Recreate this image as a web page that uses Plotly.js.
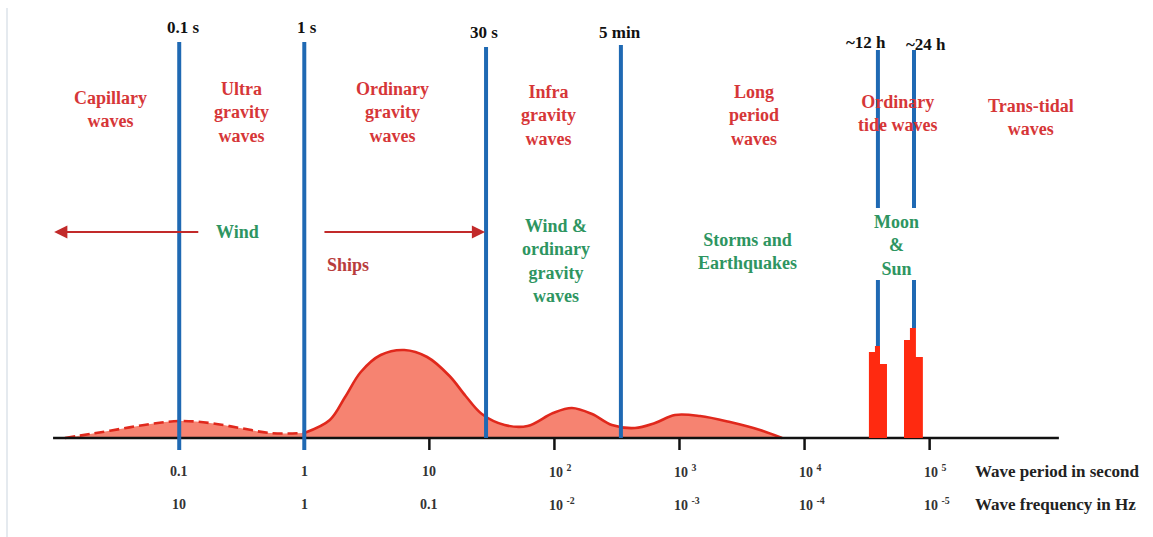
<!DOCTYPE html>
<html><head><meta charset="utf-8">
<script src="https://cdn.plot.ly/plotly-3.0.1.min.js"></script>
<style>html,body{margin:0;padding:0;background:#fff}</style>
</head><body><div id="chart" style="width:1153px;height:537px"></div>
<script>
// ---- data (period in seconds, relative energy) ----
const dashedPeriod = [0.0122, 0.0194, 0.0337, 0.0585, 0.101, 0.176, 0.306, 0.532, 1];
const dashedAmp    = [0, 4, 9, 14, 17, 15, 10, 5, 5];
const solidPeriod  = [1, 1.6, 2.12, 2.83, 4.08, 6.3, 9.6, 14.5, 19.5, 26.3, 40, 61, 97.5, 138, 200, 288, 441, 637, 920, 1459, 2535, 4406, 6607];
const solidAmp     = [5, 18, 41, 66, 83, 88, 81, 62, 42, 24, 13, 12, 25, 30, 24, 13, 10, 15, 23, 22, 16, 8, 0];
const tide12Edges  = [32700, 36550, 40100, 45600];
const tide12Amp    = [86, 92, 74];
const tide24Edges  = [62400, 69600, 77700, 88300];
const tide24Amp    = [98, 110, 81];

const markerPeriods = [0.1, 1, 28.4, 340, 38600, 75000];
const markerLabels  = ['0.1 s', '1 s', '30 s', '5 min', '~12 h', '~24 h'];

const tickPeriods    = [0.1, 1, 10, 100, 1000, 1e4, 1e5];
const periodTickText = ['0.1', '1', '10', '10', '10', '10', '10'];
const periodTickExp  = ['', '', '', '2', '3', '4', '5'];
const freqTickText   = ['10', '1', '0.1', '10', '10', '10', '10'];
const freqTickExp    = ['', '', '', '-2', '-3', '-4', '-5'];

const regionNames   = ['Capillary<br>waves', 'Ultra<br>gravity<br>waves', 'Ordinary<br>gravity<br>waves', 'Infra<br>gravity<br>waves', 'Long<br>period<br>waves', 'Ordinary<br>tide waves', 'Trans-tidal<br>waves'];
const forcingNames  = ['Wind', 'Wind &<br>ordinary<br>gravity<br>waves', 'Storms and<br>Earthquakes', 'Moon<br>&<br>Sun'];

// ---- styling / layout positions ----
const W = 1153, H = 537;
const FONT = "'Liberation Serif', 'Times New Roman', 'DejaVu Serif', serif";
const RED_TXT = '#D63638', GREEN_TXT = '#2E9561', BLUE = '#1F69B3';
const px2x = px => px / W;              // paper x
const py2y = py => 1 - py / H;          // paper y

const regionPos  = [[110, 109.5], [241, 112.5], [392, 113], [548, 115.5], [754, 115.5], [898, 113.5], [1031, 117.5]];
const forcingPos = [[237, 232], [556, 261], [747, 251], [896, 245]];
const markerLabelPos = [[183, 28], [307, 27], [484, 32.5], [620, 32.5], [866, 43], [926, 44]];
const periodRowY = 471, freqRowY = 504, rowLabelX = 973;
// blue line segments [bottom, top] in amplitude units
const markerSegs = [[[-12, 396]], [[-12, 396]], [[0, 391]], [[0, 393]], [[92, 158], [230, 388]], [[110, 158], [230, 388]]];

function stepTrace(edges, amp) {
  const x = [edges[0]], y = [0];
  for (let i = 0; i < amp.length; i++) { x.push(edges[i]); y.push(amp[i]); }
  x.push(edges[edges.length - 1]); y.push(0);
  return {x, y, type: 'scatter', mode: 'lines', line: {shape: 'hv', width: 0, color: '#FF2A10'},
          fill: 'toself', fillcolor: '#FF2A10', hoverinfo: 'skip'};
}

const traces = [];
traces.push({x: dashedPeriod, y: dashedAmp, type: 'scatter', mode: 'lines',
  line: {shape: 'spline', smoothing: 1, color: '#E0281C', width: 2.6, dash: '10px,5px'},
  fill: 'tozeroy', fillcolor: '#F68371'});
traces.push({x: solidPeriod, y: solidAmp, type: 'scatter', mode: 'lines',
  line: {shape: 'spline', smoothing: 1, color: '#E0281C', width: 2.6},
  fill: 'tozeroy', fillcolor: '#F68371'});
// x axis line
traces.push({x: [0.0098, 1.08e6], y: [0, 0], type: 'scatter', mode: 'lines', line: {color: '#111', width: 2.5}});
// tick marks
const tx = [], ty = [];
tickPeriods.forEach(p => { tx.push(p, p, null); ty.push(0, -12, null); });
traces.push({x: tx, y: ty, type: 'scatter', mode: 'lines', line: {color: '#111', width: 2.5}});
// blue period lines
const bx = [], by = [];
markerPeriods.forEach((p, i) => markerSegs[i].forEach(s => { bx.push(p, p, null); by.push(s[0], s[1], null); }));
traces.push({x: bx, y: by, type: 'scatter', mode: 'lines', line: {color: BLUE, width: 4}});
// tidal bars
traces.push(stepTrace(tide12Edges, tide12Amp));
traces.push(stepTrace(tide24Edges, tide24Amp));

const ann = [];
const bold = {family: FONT, weight: 'bold'};
regionNames.forEach((t, i) => ann.push({text: t, xref: 'paper', yref: 'paper',
  x: px2x(regionPos[i][0]), y: py2y(regionPos[i][1]), xanchor: 'center', yanchor: 'middle', showarrow: false,
  font: Object.assign({size: 18, color: RED_TXT}, bold)}));
forcingNames.forEach((t, i) => ann.push({text: t, xref: 'paper', yref: 'paper',
  x: px2x(forcingPos[i][0]), y: py2y(forcingPos[i][1]), xanchor: 'center', yanchor: 'middle', showarrow: false,
  font: Object.assign({size: 18, color: GREEN_TXT}, bold)}));
ann.push({text: 'Ships', xref: 'paper', yref: 'paper', x: px2x(348), y: py2y(265), xanchor: 'center', yanchor: 'middle',
  showarrow: false, font: Object.assign({size: 18, color: '#B83C3C'}, bold)});
markerLabels.forEach((t, i) => ann.push({text: t, xref: 'paper', yref: 'paper',
  x: px2x(markerLabelPos[i][0]), y: py2y(markerLabelPos[i][1]), xanchor: 'center', yanchor: 'middle', showarrow: false,
  font: Object.assign({size: 17, color: '#111'}, bold)}));
// tick labels
function tickAnn(p, base, exp, py) {
  const hasExp = exp !== '';
  return {text: base + (hasExp ? ' <sup>' + exp + '</sup>' : ''), xref: 'x', yref: 'paper',
    x: Math.log10(p), y: py2y(py), xanchor: hasExp ? 'left' : 'center', xshift: hasExp ? -7.5 : 0, yanchor: 'middle',
    showarrow: false, font: Object.assign({size: 14, color: '#333'}, bold)};
}
tickPeriods.forEach((p, i) => {
  ann.push(tickAnn(p, periodTickText[i], periodTickExp[i], periodRowY));
  ann.push(tickAnn(p, freqTickText[i], freqTickExp[i], freqRowY));
});
ann.push({text: 'Wave period in second', xref: 'paper', yref: 'paper', x: px2x(rowLabelX), y: py2y(periodRowY), xanchor: 'left', yanchor: 'middle',
  showarrow: false, font: Object.assign({size: 17, color: '#222'}, bold)});
ann.push({text: 'Wave frequency in Hz', xref: 'paper', yref: 'paper', x: px2x(rowLabelX), y: py2y(freqRowY), xanchor: 'left', yanchor: 'middle',
  showarrow: false, font: Object.assign({size: 17, color: '#222'}, bold)});
// wind arrows
const windArrowHeads = [0.01, 27.9];
const windArrowTails = [0.146, 1.41];
windArrowHeads.forEach((h, i) => {
  ann.push({text: '', x: Math.log10(h), y: 206, xref: 'x', yref: 'y', ax: Math.log10(windArrowTails[i]), ay: 206, axref: 'x', ayref: 'y',
    showarrow: true, arrowhead: 2, arrowsize: 1.2, arrowwidth: 2.2, arrowcolor: '#C22A2A', standoff: 0});
});

const layout = {
  width: W, height: H, autosize: false,
  margin: {l: 0, r: 0, t: 0, b: 0, pad: 0},
  paper_bgcolor: '#fff', plot_bgcolor: '#fff',
  showlegend: false, hovermode: false,
  font: {family: FONT},
  xaxis: {type: 'log', range: [-2.433, 6.786], visible: false, fixedrange: true},
  yaxis: {range: [-99, 438], visible: false, fixedrange: true},
  annotations: ann,
  shapes: [{type: 'line', xref: 'paper', yref: 'paper', x0: 7 / W, x1: 7 / W, y0: 0, y1: 1 - 8 / H,
            line: {color: '#DCE3EA', width: 1.5}}]
};
Plotly.newPlot('chart', traces, layout, {staticPlot: true, displayModeBar: false});
</script></body></html>
